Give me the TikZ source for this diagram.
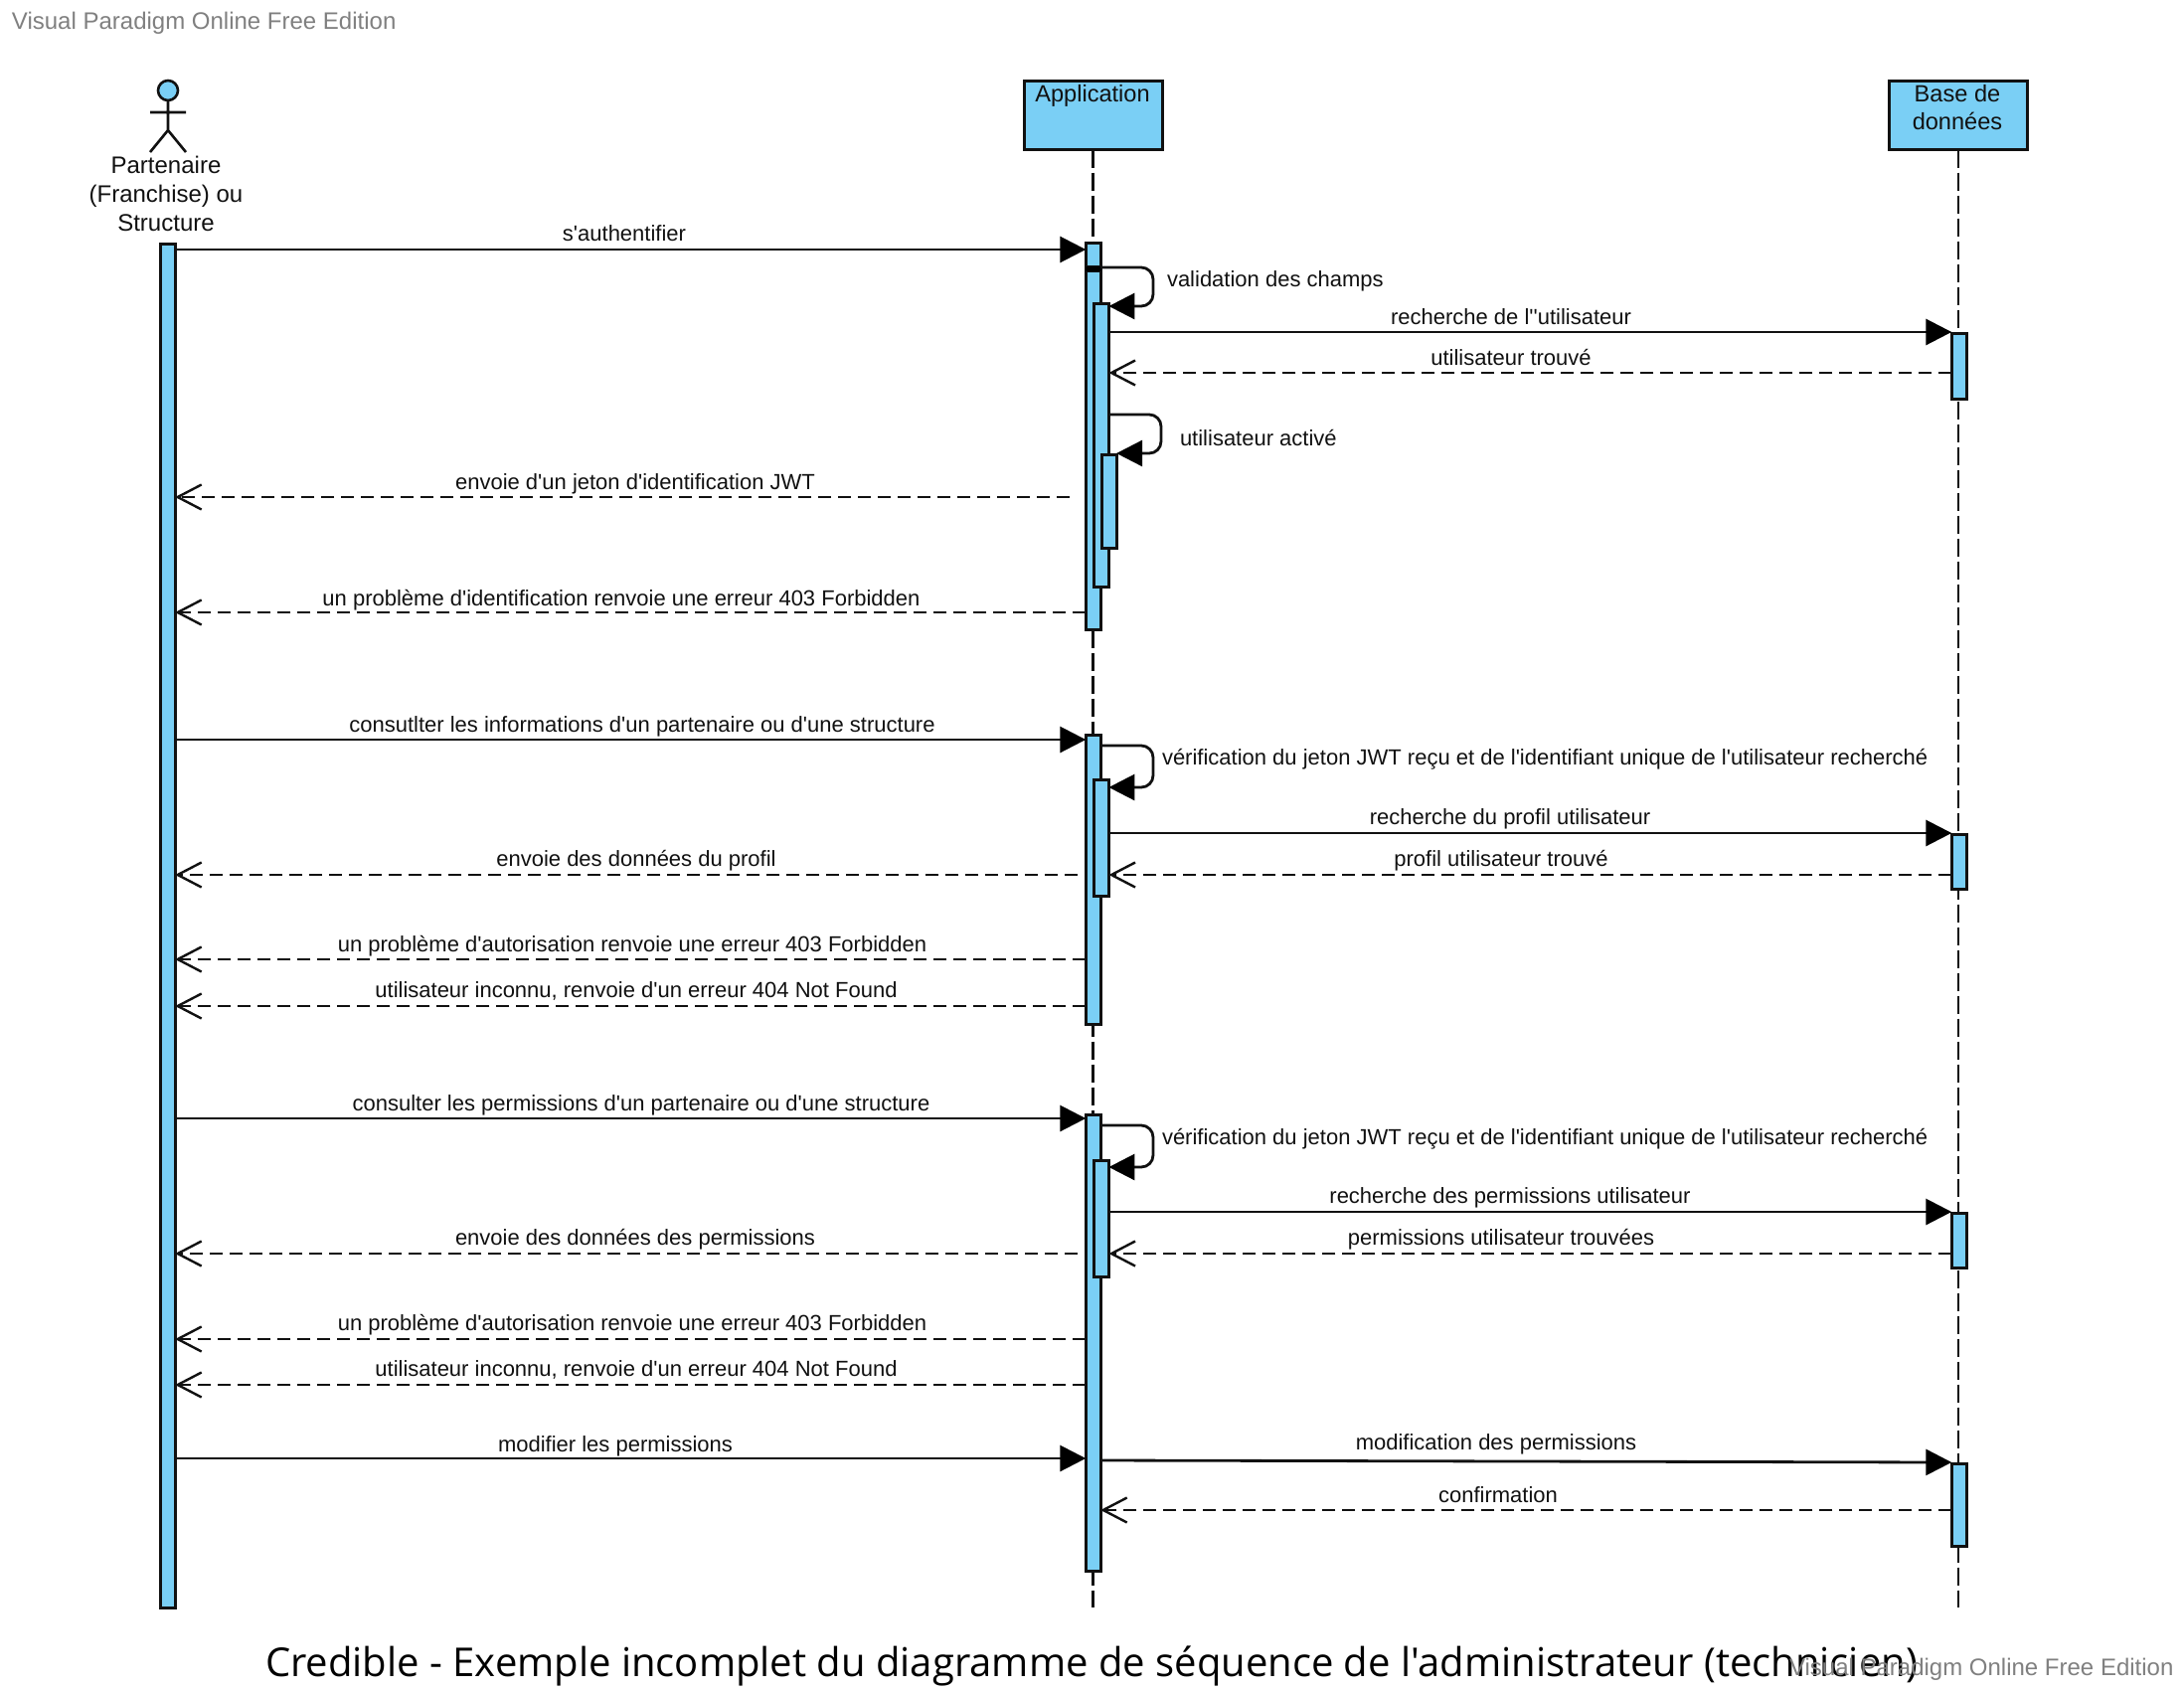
\documentclass[tikz,border=0pt]{standalone}
\usepackage{fontspec}
\newfontfamily\lib{Liberation Sans}
\newfontfamily\titlefont{Open Sans}
\usetikzlibrary{arrows.meta}
\definecolor{vpblue}{HTML}{7ACFF5}
\definecolor{vpgrey}{HTML}{808080}
\definecolor{vpink}{HTML}{111111}
\tikzset{
  x=1pt,y=-1pt,
  every node/.style={inner sep=0pt,outer sep=0pt},
  lifebox/.style={draw=vpink,fill=vpblue,line width=3pt,anchor=north west},
  actbar/.style={draw=vpink,fill=vpblue,line width=3pt,anchor=north west,minimum width=14.8pt},
  lifeline/.style={draw=vpink,line width=2.6pt,dash pattern=on 18pt off 5pt},
  sync/.style={draw=vpink,line width=2.8pt,-{Triangle[length=26pt,width=26pt,black]}},
  reply/.style={draw=vpink,line width=2.6pt,dash pattern=on 13pt off 7pt,-{Straight Barb[length=24pt,width=25pt,line width=2.4pt]}},
  msgtext/.style={font=\lib\fontsize{22pt}{26pt}\selectfont,text=vpink,anchor=base,yshift=-1pt},
  leftmsg/.style={msgtext,anchor=base west},
  headtext/.style={font=\lib\fontsize{23.6pt}{29.5pt}\selectfont,text=vpink,anchor=base},
  water/.style={font=\lib\fontsize{24pt}{28pt}\selectfont,text=vpgrey,anchor=base west},
}
\begin{document}
\begin{tikzpicture}
\useasboundingbox (0,0) rectangle (2197,1700);
\fill[white] (0,0) rectangle (2197,1700);
% watermark and title
\node[water] (wmtop) at (12,29) {Visual Paradigm Online Free Edition};
\node[font=\titlefont\fontsize{40pt}{48pt}\selectfont,text=black,anchor=base] (title) at (1098,1686) {Credible - Exemple incomplet du diagramme de séquence de l'administrateur (technicien)};
\node[water] (wmbottom) at (1800,1685) {Visual Paradigm Online Free Edition};
% actor
\node[circle,draw=vpink,fill=vpblue,line width=2.6pt,minimum size=20pt] (head) at (169,91) {};
\coordinate (hip) at (169,131);
\coordinate (armL) at (151,113);
\coordinate (armR) at (187,113);
\coordinate (legL) at (151,153);
\coordinate (legR) at (187,153);
\draw[draw=vpink,line width=2.6pt] (head.south) -- (hip) (armL) -- (armR) (legL) -- (hip) -- (legR);
\node[font=\lib\fontsize{24pt}{29pt}\selectfont,text=vpink,align=center,anchor=north] (actorname) at (167,157) {Partenaire\\(Franchise) ou\\Structure};
% lifeline heads
\node[lifebox,minimum width=139.5pt,minimum height=69pt] (app) at (1030,81.5) {};
\node[headtext] (appname) at (1099,102) {Application};
\node[lifebox,minimum width=139pt,minimum height=69pt] (db) at (1900.5,81.5) {};
\node[headtext] (dbname1) at (1969,102) {Base de};
\node[headtext] (dbname2) at (1969,130) {données};
\coordinate (append) at (app.south |- 0,1617);
\coordinate (dbend) at (db.south |- 0,1617);
\draw[lifeline] (app.south) -- (append);
\draw[lifeline] (db.south) -- (dbend);
% activations
\node[actbar,minimum height=1372pt] (A) at (161.3,245) {};
\node[actbar,minimum height=389pt] (M1) at (1092.3,244) {};
\node[draw=vpink,fill=black,minimum width=17pt,minimum height=6pt,anchor=north west] (M1b) at (1091.2,267) {};
\node[actbar,minimum height=285pt] (S1) at (1100.6,305) {};
\node[actbar,minimum height=94pt] (T1) at (1108.3,457) {};
\node[actbar,minimum height=66pt] (D1) at (1963.3,335) {};
\node[actbar,minimum height=291pt] (M2) at (1092.3,739) {};
\node[actbar,minimum height=117pt] (S2) at (1100.6,784) {};
\node[actbar,minimum height=55pt] (D2) at (1963.3,839) {};
\node[actbar,minimum height=459pt] (M3) at (1092.3,1121) {};
\node[actbar,minimum height=117pt] (S3) at (1100.6,1167) {};
\node[actbar,minimum height=55pt] (D3) at (1963.3,1220) {};
\node[actbar,minimum height=83pt] (D4) at (1963.3,1472) {};
% free ends of the replies that stop short of the bars
\coordinate (jwtstart) at (1076,500);
\coordinate (profstart) at (1084,880);
\coordinate (permstart) at (1084,1261);
% block 1
\draw[sync] (A.east |- 0,251) -- (M1.west |- 0,251);
\draw[sync,rounded corners=12pt] (M1.east |- 0,269) -- (1160,269) -- (1160,308) -- (S1.east |- 0,308);
\draw[sync] (S1.east |- 0,334) -- (D1.west |- 0,334);
\draw[reply] (D1.west |- 0,375) -- (S1.east |- 0,375);
\draw[sync,rounded corners=12pt] (S1.east |- 0,417) -- (1168,417) -- (1168,456) -- (T1.east |- 0,456);
\draw[reply] (jwtstart) -- (A.east |- jwtstart);
\draw[reply] (M1.west |- 0,616) -- (A.east |- 0,616);
% block 2
\draw[sync] (A.east |- 0,744) -- (M2.west |- 0,744);
\draw[sync,rounded corners=12pt] (M2.east |- 0,750) -- (1160,750) -- (1160,792) -- (S2.east |- 0,792);
\draw[sync] (S2.east |- 0,838) -- (D2.west |- 0,838);
\draw[reply] (D2.west |- 0,880) -- (S2.east |- 0,880);
\draw[reply] (profstart) -- (A.east |- profstart);
\draw[reply] (M2.west |- 0,965) -- (A.east |- 0,965);
\draw[reply] (M2.west |- 0,1012) -- (A.east |- 0,1012);
% block 3
\draw[sync] (A.east |- 0,1125) -- (M3.west |- 0,1125);
\draw[sync,rounded corners=12pt] (M3.east |- 0,1132) -- (1160,1132) -- (1160,1174) -- (S3.east |- 0,1174);
\draw[sync] (S3.east |- 0,1219) -- (D3.west |- 0,1219);
\draw[reply] (D3.west |- 0,1261) -- (S3.east |- 0,1261);
\draw[reply] (permstart) -- (A.east |- permstart);
\draw[reply] (M3.west |- 0,1347) -- (A.east |- 0,1347);
\draw[reply] (M3.west |- 0,1393) -- (A.east |- 0,1393);
\draw[sync] (A.east |- 0,1467) -- (M3.west |- 0,1467);
\draw[sync] (M3.east |- 0,1469) -- (D4.west |- 0,1471);
\draw[reply] (D4.west |- 0,1519) -- (M3.east |- 0,1519);
% labels
\node[msgtext] (t1) at (628,241) {s'authentifier};
\node[leftmsg] (t2) at (1174,287) {validation des champs};
\node[msgtext] (t3) at (1520,325) {recherche de l''utilisateur};
\node[msgtext] (t4) at (1520,366) {utilisateur trouvé};
\node[leftmsg] (t5) at (1187,447) {utilisateur activé};
\node[msgtext] (t6) at (639,491) {envoie d'un jeton d'identification JWT};
\node[msgtext] (t7) at (625,608) {un problème d'identification renvoie une erreur 403 Forbidden};
\node[msgtext] (t8) at (646,735) {consutlter les informations d'un partenaire ou d'une structure};
\node[leftmsg] (t9) at (1169,768) {vérification du jeton JWT reçu et de l'identifiant unique de l'utilisateur recherché};
\node[msgtext] (t10) at (1519,828) {recherche du profil utilisateur};
\node[msgtext] (t11) at (1510,870) {profil utilisateur trouvé};
\node[msgtext] (t12) at (640,870) {envoie des données du profil};
\node[msgtext] (t13) at (636,956) {un problème d'autorisation renvoie une erreur 403 Forbidden};
\node[msgtext] (t14) at (640,1002) {utilisateur inconnu, renvoie d'un erreur 404 Not Found};
\node[msgtext] (t15) at (645,1116) {consulter les permissions d'un partenaire ou d'une structure};
\node[leftmsg] (t16) at (1169,1150) {vérification du jeton JWT reçu et de l'identifiant unique de l'utilisateur recherché};
\node[msgtext] (t17) at (1519,1209) {recherche des permissions utilisateur};
\node[msgtext] (t18) at (639,1251) {envoie des données des permissions};
\node[msgtext] (t19) at (1510,1251) {permissions utilisateur trouvées};
\node[msgtext] (t20) at (636,1337) {un problème d'autorisation renvoie une erreur 403 Forbidden};
\node[msgtext] (t21) at (640,1383) {utilisateur inconnu, renvoie d'un erreur 404 Not Found};
\node[msgtext] (t22) at (619,1459) {modifier les permissions};
\node[msgtext] (t23) at (1505,1457) {modification des permissions};
\node[msgtext] (t24) at (1507,1510) {confirmation};
\end{tikzpicture}
\end{document}
